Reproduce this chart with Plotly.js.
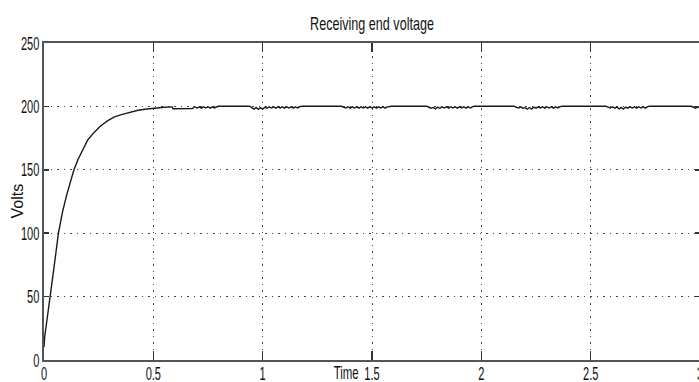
<!DOCTYPE html>
<html>
<head>
<meta charset="utf-8">
<script src="https://cdn.plot.ly/plotly-3.0.1.min.js"></script>
<style>
html,body{margin:0;padding:0;overflow:hidden;background:#fff;}
#chart{width:700px;height:382px;}
</style>
</head>
<body>
<div id="chart"></div>
<script>
// Rise portion
const riseTime  = [0, 0.003, 0.010, 0.020, 0.030, 0.045, 0.066, 0.085, 0.105, 0.125, 0.137, 0.155, 0.175, 0.200, 0.230, 0.260, 0.290, 0.320, 0.354, 0.390, 0.430, 0.470, 0.510, 0.550, 0.586];
const riseVolts = [10, 18, 27, 41, 55, 72, 100, 117, 131, 143, 150, 158, 165, 173.5, 179.7, 184.8, 188.6, 191.5, 193.5, 195.4, 197, 198, 198.8, 199.3, 199.6];

// Steady-state portion with ripple patches
const steadyTime = [
  0.590, 0.680, 0.685,
  0.69, 0.70, 0.71, 0.72, 0.73, 0.74, 0.75, 0.76, 0.77, 0.78, 0.79,
  0.80, 0.94,
  0.95, 0.96, 0.97, 0.98, 0.99, 1.00, 1.01, 1.02, 1.03, 1.04, 1.05, 1.06, 1.07, 1.08, 1.09, 1.10, 1.11, 1.12, 1.13, 1.14, 1.15, 1.16, 1.17,
  1.18, 1.36,
  1.37, 1.38, 1.39, 1.40, 1.41, 1.42, 1.43, 1.44, 1.45, 1.46, 1.47, 1.48, 1.49, 1.50, 1.51, 1.52, 1.53, 1.54, 1.55, 1.56, 1.57, 1.58,
  1.59, 1.75,
  1.76, 1.77, 1.78, 1.79, 1.80, 1.81, 1.82, 1.83, 1.84, 1.85, 1.86, 1.87, 1.88, 1.89, 1.90, 1.91, 1.92, 1.93, 1.94, 1.95, 1.96,
  1.97, 2.15,
  2.16, 2.17, 2.18, 2.19, 2.20, 2.21, 2.22, 2.23, 2.24, 2.25, 2.26, 2.27, 2.28, 2.29, 2.30, 2.31, 2.32, 2.33, 2.34, 2.35, 2.36,
  2.37, 2.57,
  2.58, 2.59, 2.60, 2.61, 2.62, 2.63, 2.64, 2.65, 2.66, 2.67, 2.68, 2.69, 2.70, 2.71, 2.72, 2.73, 2.74, 2.75, 2.76,
  2.77, 2.96,
  2.97, 2.98, 2.99, 3.00
];
const steadyVolts = [
  198.2, 198.3, 199.6,
  199.6, 198.7, 199.7, 198.6, 199.6, 198.7, 199.7, 198.6, 199.6, 198.7, 199.7,
  200.1, 200.1,
  198.9, 197.8, 199.2, 197.7, 199.0, 197.9, 199.3, 198.5, 199.6, 198.7, 199.7, 198.6, 199.6, 198.7, 199.7, 198.6, 199.6, 198.7, 199.7, 198.6, 199.6, 198.7, 199.8,
  200.1, 200.1,
  199.6, 198.7, 199.7, 198.6, 199.6, 198.7, 199.7, 198.6, 199.6, 198.7, 199.7, 198.6, 199.6, 198.7, 199.7, 198.6, 199.6, 198.7, 199.7, 198.6, 199.6, 199.8,
  200.1, 200.1,
  199.5, 198.6, 199.2, 198.0, 199.4, 198.5, 199.6, 198.7, 199.7, 198.6, 199.6, 198.7, 199.7, 198.6, 199.6, 198.7, 199.7, 198.6, 199.6, 198.7, 199.8,
  200.1, 200.1,
  199.6, 198.7, 199.7, 198.6, 199.0, 197.8, 199.1, 197.9, 199.4, 198.6, 199.6, 198.7, 199.7, 198.6, 199.6, 198.7, 199.7, 198.6, 199.6, 198.7, 199.8,
  200.1, 200.1,
  199.6, 198.7, 199.7, 198.6, 199.6, 198.0, 199.2, 197.9, 199.5, 198.6, 199.6, 198.7, 199.7, 198.6, 199.6, 198.7, 199.7, 198.6, 199.8,
  200.1, 200.1,
  199.5, 198.6, 199.6, 198.7
];

const xTickVals  = [0, 0.5, 1, 1.5, 2, 2.5, 3];
const xTickText  = ['0', '0.5', '1', '1.5', '2', '2.5', '3'];
const yTickVals  = [0, 50, 100, 150, 200, 250];
const yTickText  = ['0', '50', '100', '150', '200', '250'];

const sans = 'Liberation Sans, Arial, Helvetica, sans-serif';

const trace = {
  x: riseTime.concat(steadyTime),
  y: riseVolts.concat(steadyVolts),
  type: 'scatter',
  mode: 'lines',
  line: {color: '#1a1a1a', width: 1.4},
  hoverinfo: 'skip'
};

const axisCommon = {
  ticks: 'inside',
  tickwidth: 1.5,
  tickcolor: '#333',
  showline: true,
  linewidth: 2,
  linecolor: '#555',
  mirror: 'ticks',
  showgrid: true,
  gridcolor: '#444',
  gridwidth: 1,
  griddash: '1.5px,5px',
  zeroline: false,
  ticklabeloverflow: 'allow',
  tickfont: {family: sans, size: 13, color: '#111'},
  fixedrange: true
};

const layout = {
  width: 700,
  height: 382,
  margin: {l: 44, r: 0, t: 43, b: 22, pad: 0},
  paper_bgcolor: '#fff',
  plot_bgcolor: '#fff',
  showlegend: false,
  title: {
    text: 'Receiving end voltage',
    font: {family: sans, size: 14, color: '#111'},
    xref: 'paper', x: 0.5, xanchor: 'center',
    yref: 'container', y: 0.938, yanchor: 'middle'
  },
  xaxis: Object.assign({}, axisCommon, {
    range: [0, 3],
    tickmode: 'array', tickvals: xTickVals, ticktext: xTickText,
    ticklen: 9
  }),
  yaxis: Object.assign({}, axisCommon, {
    range: [0, 250],
    tickmode: 'array', tickvals: yTickVals, ticktext: yTickText,
    ticklen: 5
  }),
  annotations: [
    {
      text: 'Time', showarrow: false,
      xref: 'x', x: 1.5, xanchor: 'center', xshift: -26,
      yref: 'paper', y: 0, yanchor: 'top', yshift: -3,
      font: {family: sans, size: 13, color: '#111'}
    },
    {
      text: 'Volts', showarrow: false, textangle: -90,
      xref: 'paper', x: 0, xanchor: 'center', xshift: -27,
      yref: 'paper', y: 0.5, yanchor: 'middle',
      font: {family: sans, size: 16, color: '#111'}
    }
  ]
};

// Narrow, tall lettering like the original screenshot
function stretch(el, sx, sy, anchor) {
  const b = el.getBBox();
  const cx = anchor === 'right' ? b.x + b.width : b.x + b.width / 2;
  const cy = b.y + b.height / 2;
  const prev = el.getAttribute('transform') || '';
  el.setAttribute('transform', prev + ' translate(' + cx + ',' + cy + ') scale(' + sx + ',' + sy + ') translate(' + (-cx) + ',' + (-cy) + ')');
}

Plotly.newPlot('chart', [trace], layout, {staticPlot: true, displayModeBar: false}).then(function (gd) {
  gd.querySelectorAll('.xtick text').forEach(function (t) { stretch(t, 0.85, 1.45, 'center'); });
  gd.querySelectorAll('.ytick text').forEach(function (t) { stretch(t, 0.85, 1.45, 'right'); });
  gd.querySelectorAll('.gtitle').forEach(function (t) { stretch(t, 0.9, 1.3, 'center'); });
  const ann = gd.querySelectorAll('.annotation-text');
  if (ann.length) stretch(ann[0], 0.88, 1.45, 'center');
});
</script>
</body>
</html>
